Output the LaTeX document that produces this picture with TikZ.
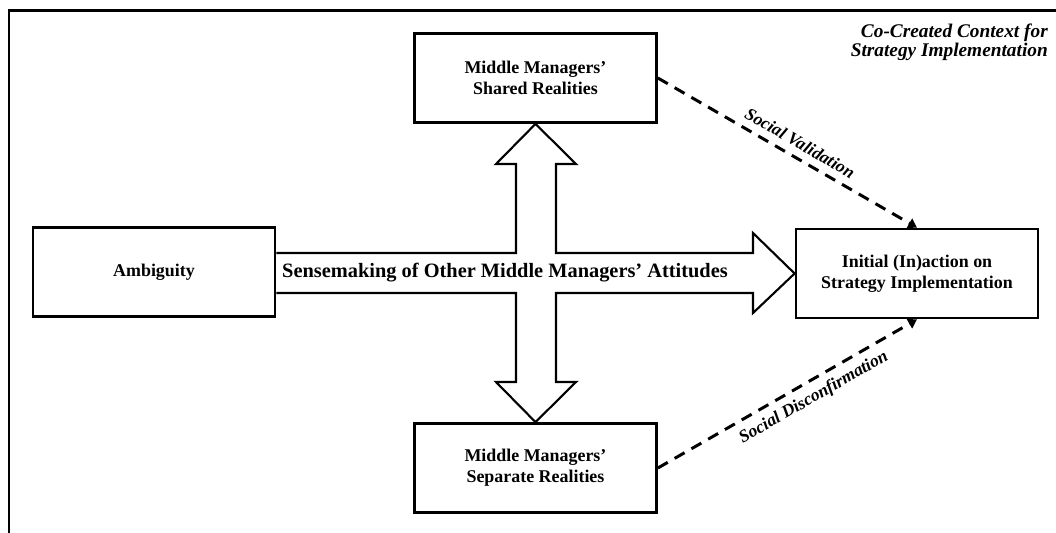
\documentclass[tikz,border=0pt]{standalone}
\usepackage{fontspec}
\setmainfont{Liberation Serif}
\usetikzlibrary{arrows.meta}
\begin{document}
\begin{tikzpicture}[x=0.02cm,y=-0.02cm,
  box/.style={draw,line width=1.6pt,minimum width=4.84cm,minimum height=1.78cm,align=center,font=\fontsize{10.2}{11.8}\selectfont\bfseries},
  bigarrow/.style={line width=1.2pt,line join=miter},
  linkarrow/.style={line width=1.7pt,dash pattern=on 6.5pt off 4.5pt,-{Triangle[length=5pt,width=6pt]}},
  linklabel/.style={font=\fontsize{10}{12}\selectfont\bfseries\itshape,sloped,inner sep=4pt}]
\useasboundingbox (0,0) rectangle (1056,532);
\draw[line width=1.7pt] (9,540) |- (1060,10);
\node[anchor=north east,align=right,font=\fontsize{11}{10.5}\selectfont\bfseries\itshape] (context) at (1054,18) {Co-Created Context for\\Strategy Implementation};
\node[box] (ambiguity) at (154,272) {Ambiguity};
\node[box] (shared) at (535.5,78) {Middle Managers'\\Shared Realities};
\node[box] (separate) at (535.5,468) {Middle Managers'\\Separate Realities};
\node[box] (initial) at (917,273.5) {Initial (In)action on\\Strategy Implementation};
\coordinate (up) at (shared.south);
\coordinate (down) at (separate.north);
\coordinate (right) at (initial.west);
\draw[bigarrow] (ambiguity.east |- 0,253) -- (516,253) -- (516,164) -- (496,164) -- (up) -- (576,164) -- (556,164) -- (556,253)
  -- (753,253) -- (753,233) -- (right) -- (753,313) -- (753,293) -- (556,293) -- (556,382) -- (576,382) -- (down)
  -- (496,382) -- (516,382) -- (516,293) -- (ambiguity.east |- 0,293);
\node[font=\fontsize{11.6}{13}\selectfont\bfseries] (sensemaking) at (505,273) {Sensemaking of Other Middle Managers' Attitudes};
\draw[linkarrow] (shared.east) -- node[linklabel,pos=0.52,above] (validation) {Social Validation} (initial.north);
\draw[linkarrow] (separate.east) -- node[linklabel,pos=0.57,below] (disconfirmation) {Social Disconfirmation} (initial.south);
\end{tikzpicture}
\end{document}
